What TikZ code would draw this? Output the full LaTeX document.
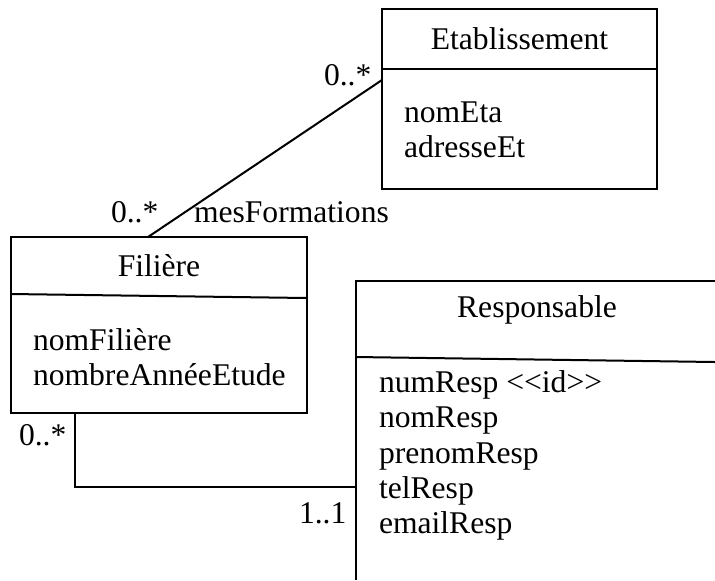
\documentclass[tikz,border=0pt]{standalone}
\usepackage{fontspec}
\setmainfont{Liberation Serif}

\tikzset{
    umltext/.style={font=\fontsize{15.8}{18}\selectfont, inner sep=0pt},
    attr/.style={umltext, anchor=base west},
    mult/.style={umltext, anchor=base west},
}

\begin{document}
\begin{tikzpicture}[x=0.5pt, y=-0.5pt, line width=1pt]
    \useasboundingbox (0,0) rectangle (715,580);

    % Etablissement
    \coordinate (EtaNW) at (382,9);
    \coordinate (EtaSE) at (657,189);
    \coordinate (EtaW) at (382,80);
    \draw (EtaNW) rectangle (EtaSE);
    \draw (382,69) -- (657,69);
    \node[umltext, anchor=base] (etaname) at (519.5,49) {Etablissement};
    \node[attr] (nometa) at (403,122) {nomEta};
    \node[attr] (adreta) at (403,157) {adresseEt};

    % Filiere
    \coordinate (FilNW) at (11,237);
    \coordinate (FilSE) at (307,413);
    \coordinate (FilN) at (148,237);
    \coordinate (FilS) at (75,413);
    \draw (FilNW) rectangle (FilSE);
    \draw (11,294) -- (307,298);
    \node[umltext, anchor=base] (filname) at (159,276) {Filière};
    \node[attr] (nomfil) at (32,350) {nomFilière};
    \node[attr] (nbrfil) at (32,385) {nombreAnnéeEtude};

    % Responsable
    \coordinate (RespNW) at (356,281);
    \coordinate (RespW) at (356,487);
    \draw (715,281) -- (RespNW) -- (356,580);
    \draw (356,357) -- (715,362);
    \node[umltext, anchor=base] (respname) at (537,317) {Responsable};
    \node[attr] (numresp) at (378,392) {numResp {<}{<}id{>}{>}};
    \node[attr] (nomresp) at (378,427.5) {nomResp};
    \node[attr] (preresp) at (378,463) {prenomResp};
    \node[attr] (telresp) at (378,498) {telResp};
    \node[attr] (mailresp) at (378,533) {emailResp};

    % associations
    \draw (FilN) -- (EtaW);
    \draw (FilS) |- (RespW);

    \node[mult] (m1) at (323,85) {0..*};
    \node[mult] (m2) at (110,222) {0..*};
    \node[mult] (role) at (193,222) {mesFormations};
    \node[mult] (m3) at (18,445) {0..*};
    \node[mult] (m4) at (298,523) {1..1};
\end{tikzpicture}
\end{document}
